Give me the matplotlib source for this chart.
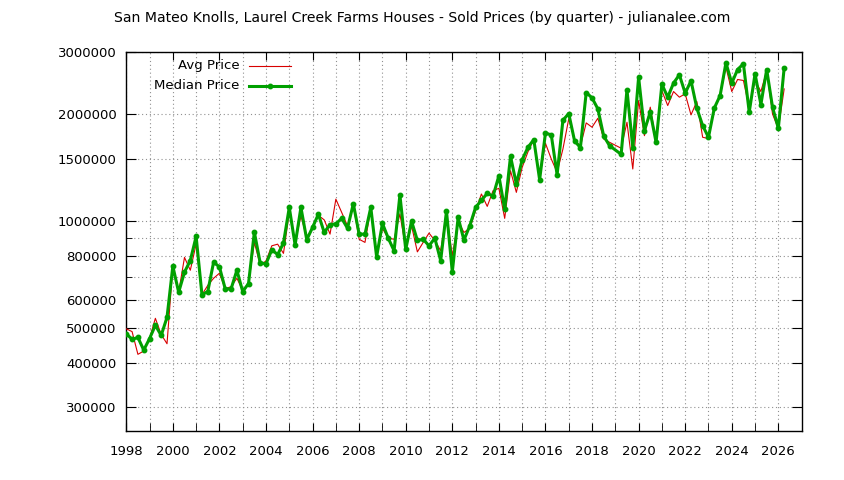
import matplotlib
matplotlib.use('Agg')
import numpy as np
import matplotlib.pyplot as plt
from matplotlib.ticker import FixedLocator, FixedFormatter, NullFormatter

plt.rcParams['font.family'] = ['DejaVu Sans']
plt.rcParams['font.size'] = 9.5

# quarterly sold prices, first quarter is 1998 Q1 (None = no sales that quarter)
start_year = 1998
median_price = [
    483500, 466000, 472000, 434800,     # 1998
    468300, 510500, 478000, 537600,     # 1999
    748600, 632000, 720000, 776400,     # 2000
    907300, 622600, 635000, 768000,     # 2001
    745000, 646000, 646000, 729000,     # 2002
    635000, 669000, 933000, 765000,     # 2003
    760000, 832000, 807000, 869000,     # 2004
    1095000, 859000, 1095000, 888000,   # 2005
    962000, 1048000, 931000, 980000,    # 2006
    984000, 1020000, 957000, 1121000,   # 2007
    921000, 921000, 1095000, 795000,    # 2008
    987000, 897000, 827000, 1186000,    # 2009
    834000, 1002000, 884000, 891000,    # 2010
    854000, 897000, 776000, 1069000,    # 2011
    721000, 1026000, 886000, 972000,    # 2012
    1095000, 1146000, 1199000, 1178000, # 2013
    1344000, 1081000, 1524000, 1274000, # 2014
    1491000, 1616000, 1698000, 1310000, # 2015
    1773000, 1750000, 1353000, 1925000, # 2016
    2010000, 1684000, 1612000, 2303000, # 2017
    2225000, 2072000, 1739000, 1633000, # 2018
    None, 1544000, 2344000, 1612000,    # 2019
    2544000, 1800000, 2028000, 1669000, # 2020
    2430000, 2235000, 2448000, 2583000, # 2021
    2294000, 2485000, 2082000, 1859000, # 2022
    1724000, 2082000, 2259000, 2792000, # 2023
    2448000, 2673000, 2774000, 2028000, # 2024
    2600000, 2131000, 2673000, 2095000, # 2025
    1828000, 2703000,                   # 2026
]
avg_price = [
    499000, 490000, 423000, 432000,     # 1998
    469000, 534000, 481000, 453000,     # 1999
    748000, 632000, 792000, 729000,     # 2000
    863000, 622000, 661000, 692000,     # 2001
    715000, 646000, 656000, 692000,     # 2002
    640000, 669000, 873000, 755000,     # 2003
    774000, 854000, 863000, 813000,     # 2004
    1060000, 870000, 1037000, 900000,   # 2005
    962000, 1040000, 1010000, 921000,   # 2006
    1155000, 1060000, 972000, 1110000,  # 2007
    891000, 873000, 1083000, 800000,    # 2008
    956000, 897000, 891000, 1050000,    # 2009
    840000, 972000, 821000, 873000,     # 2010
    927000, 884000, 827000, 1060000,    # 2011
    800000, 1004000, 931000, 956000,    # 2012
    1071000, 1194000, 1102000, 1220000, # 2013
    1239000, 1020000, 1388000, 1207000, # 2014
    1419000, 1570000, 1698000, 1330000, # 2015
    1658000, 1498000, 1374000, 1598000, # 2016
    1942000, 1700000, 1625000, 1892000, # 2017
    1840000, 1950000, 1705000, 1669000, # 2018
    None, 1606000, 1900000, 1404000,    # 2019
    2186000, 1742000, 2095000, 1680000, # 2020
    2330000, 2117000, 2318000, 2235000, # 2021
    2283000, 1993000, 2173000, 1724000, # 2022
    1710000, 2082000, 2259000, 2716000, # 2023
    2318000, 2506000, 2490000, 2082000, # 2024
    2490000, 2318000, 2650000, 2005000, # 2025
    1820000, 2358000,                   # 2026
]

ytick_vals = [300000, 400000, 500000, 600000, 800000, 1000000, 1500000, 2000000, 3000000]
ytick_minor = [700000, 900000]
xtick_years = list(range(1998, 2027, 2))

qx = start_year + np.arange(len(median_price)) * 0.25
keep = np.array([v is not None for v in median_price])
x = qx[keep]
med = np.array([v for v in median_price if v is not None], dtype=float)
avg = np.array([v for v in avg_price if v is not None], dtype=float)

red = '#d80000'
green = '#00a000'

fig = plt.figure(figsize=(8.44, 4.8), dpi=100)
ax = fig.add_axes([0.1496, 0.1027, 0.8002, 0.7896])

ax.plot(x, avg, color=red, lw=0.8, zorder=3)
ax.plot(x, med, color=green, lw=2.2, marker='o', ms=3.2, zorder=4)

ax.set_yscale('log')
ax.set_ylim(258000, 3000000)
ax.set_xlim(1998, 2027)

ax.yaxis.set_major_locator(FixedLocator(ytick_vals))
ax.yaxis.set_major_formatter(FixedFormatter([str(v) for v in ytick_vals]))
ax.yaxis.set_minor_locator(FixedLocator(ytick_minor))
ax.yaxis.set_minor_formatter(NullFormatter())
ax.xaxis.set_major_locator(FixedLocator(xtick_years))
ax.xaxis.set_major_formatter(FixedFormatter([str(y) for y in xtick_years]))
ax.xaxis.set_minor_locator(FixedLocator(range(1999, 2027, 2)))

ax.grid(True, which='both', linestyle=(0, (1, 2.5)), color='#909090', lw=0.8)
ax.tick_params(which='both', direction='in', top=True, right=True, colors='black')
ax.tick_params(axis='x', which='major', length=6, pad=10)
ax.tick_params(axis='x', which='minor', length=6, top=False)
ax.tick_params(axis='y', which='major', length=7, pad=7)
ax.tick_params(axis='y', which='minor', length=4, right=False)
for s in ax.spines.values():
    s.set_linewidth(1.0)

# gnuplot style key: right aligned text, sample line after it
ax.text(0.168, 0.963, 'Avg Price', transform=ax.transAxes, ha='right', va='center')
ax.plot([0.182, 0.244], [0.963, 0.963], transform=ax.transAxes, color=red, lw=0.8)
ax.text(0.168, 0.910, 'Median Price', transform=ax.transAxes, ha='right', va='center')
ax.plot([0.182, 0.244], [0.910, 0.910], transform=ax.transAxes, color=green, lw=2.2)
ax.plot([0.213], [0.910], transform=ax.transAxes, color=green, marker='o', ms=3.2)

fig.text(0.5, 0.9625, 'San Mateo Knolls, Laurel Creek Farms Houses - Sold Prices (by quarter) - julianalee.com',
         ha='center', va='center', fontsize=10.1)

fig.savefig('out.png', dpi=100)
